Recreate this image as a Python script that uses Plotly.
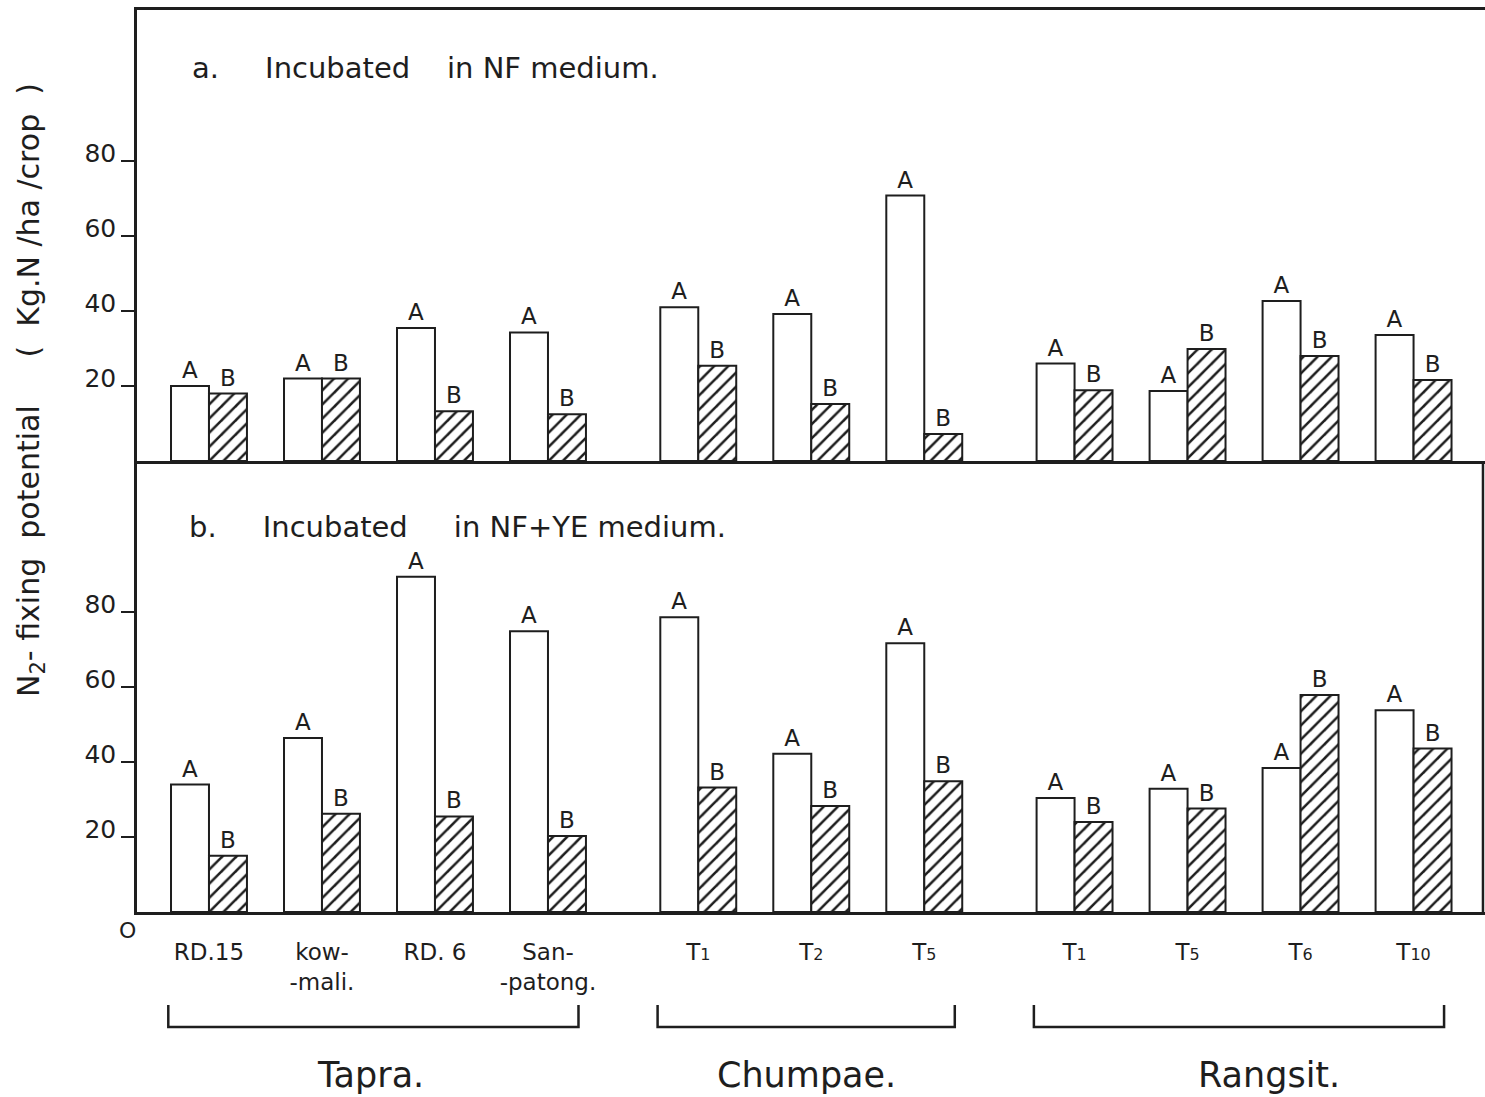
import plotly.graph_objects as go

# ---- data ----
groups = ["Tapra.", "Chumpae.", "Rangsit."]
group_sizes = [4, 3, 4]
cultivars = ["RD.15", "kow-<br>-mali.", "RD. 6", "San-<br>-patong.",
             "T<span style='font-size:16px'>1</span>", "T<span style='font-size:16px'>2</span>",
             "T<span style='font-size:16px'>5</span>",
             "T<span style='font-size:16px'>1</span>", "T<span style='font-size:16px'>5</span>",
             "T<span style='font-size:16px'>6</span>", "T<span style='font-size:16px'>10</span>"]
nf_A = [20, 22, 35.5, 34.3, 41, 39.2, 70.8, 26, 18.7, 42.7, 33.6]
nf_B = [18, 22, 13.3, 12.5, 25.4, 15.2, 7.2, 18.9, 29.9, 28, 21.6]
ye_A = [34, 46.4, 89.4, 74.9, 78.6, 42.2, 71.7, 30.4, 32.9, 38.4, 53.8]
ye_B = [15, 26.2, 25.5, 20.3, 33.2, 28.3, 34.9, 24, 27.6, 57.9, 43.6]
yticks = [20, 40, 60, 80]

# ---- positions (group gap) ----
GAP = 0.33
pos = []
p = 0.0
for n in group_sizes:
    for k in range(n):
        pos.append(p)
        p += 1
    p += GAP
W = 0.336
INK = "#1e1e1e"
FONT = "DejaVu Sans"

fig = go.Figure()

def add_pair(A, B, xa, ya):
    fig.add_trace(go.Bar(x=pos, y=A, width=W, offset=-W, xaxis=xa, yaxis=ya,
                         marker=dict(color="white", line=dict(color=INK, width=2)),
                         text=["A"] * len(A), textposition="outside", cliponaxis=False,
                         constraintext="none",
                         textfont=dict(size=23, color=INK, family=FONT), showlegend=False))
    fig.add_trace(go.Bar(x=pos, y=B, width=W, offset=0, xaxis=xa, yaxis=ya,
                         marker=dict(color="white", line=dict(color=INK, width=2),
                                     pattern=dict(shape="/", size=10, solidity=0.25,
                                                  fgcolor=INK, bgcolor="white", fgopacity=1)),
                         text=["B"] * len(B), textposition="outside", cliponaxis=False,
                         constraintext="none",
                         textfont=dict(size=23, color=INK, family=FONT), showlegend=False))

add_pair(nf_A, nf_B, "x", "y")
add_pair(ye_A, ye_B, "x2", "y2")

xr = [-0.637, -0.637 + 1348 / 113]
yaxis_common = dict(range=[0, 120.3], tickvals=yticks, ticks="outside", ticklen=13, tickwidth=2,
                    tickcolor=INK, showline=True, linecolor=INK, linewidth=2.5,
                    showgrid=False, zeroline=False, ticklabelshift=-8,
                    tickfont=dict(size=25, color=INK, family=FONT), fixedrange=True)

fig.update_layout(
    width=1485, height=1097,
    margin=dict(l=137, r=0, t=10, b=185),
    paper_bgcolor="white", plot_bgcolor="white",
    barmode="overlay",
    font=dict(family=FONT, color=INK),
    xaxis=dict(domain=[0, 1], anchor="y", range=xr, showline=True, mirror=True,
               linecolor=INK, linewidth=2.5, showticklabels=False, ticks="",
               showgrid=False, zeroline=False),
    yaxis=dict(domain=[0.5, 1], anchor="x", **yaxis_common),
    xaxis2=dict(domain=[0, 1], anchor="y2", range=xr, showline=True,
                linecolor=INK, linewidth=2.5, ticks="", showgrid=False, zeroline=False,
                tickvals=pos, ticktext=cultivars, ticklabelstandoff=18,
                tickfont=dict(size=23, color=INK, family=FONT)),
    yaxis2=dict(domain=[0, 0.5], anchor="x2", **yaxis_common),
)

# panel titles
NB = "\u00a0"
fig.add_annotation(xref="paper", yref="paper", x=0.0393, y=0.9357, xanchor="left", yanchor="middle",
                   text=f"a.{NB*5}Incubated{NB*4}in NF medium.", showarrow=False,
                   font=dict(size=29, color=INK, family=FONT))
fig.add_annotation(xref="paper", yref="paper", x=0.0371, y=0.4268, xanchor="left", yanchor="middle",
                   text=f"b.{NB*5}Incubated{NB*5}in NF+YE medium.", showarrow=False,
                   font=dict(size=29, color=INK, family=FONT))

# y title
fig.add_annotation(xref="paper", yref="paper", x=-0.0794, y=0.5787, xanchor="center", yanchor="middle",
                   textangle=-90, showarrow=False,
                   text=f"N<sub>2</sub>- fixing{NB*2}potential{NB*5}({NB*2}Kg.N{NB}/ha{NB}/crop{NB*2})",
                   font=dict(size=30, color=INK, family=FONT))

# origin label
fig.add_annotation(xref="paper", yref="paper", x=-0.0074, y=-0.02, xanchor="center", yanchor="middle",
                   text="O", showarrow=False, font=dict(size=22, color=INK, family=FONT))

# right edge of lower panel
fig.add_shape(type="line", xref="paper", yref="paper", x0=0.9985, x1=0.9985, y0=0, y1=0.5,
              line=dict(color=INK, width=2.5))

# group brackets
label_shift = [-3, 0, 30]
start = 0
for g, n, sh in zip(groups, group_sizes, label_shift):
    x0 = pos[start] - 0.36
    x1 = pos[start + n - 1] + 0.27
    fig.add_shape(type="path", xref="x2", yref="paper",
                  path=f"M {x0},-0.1031 L {x0},-0.1275 L {x1},-0.1275 L {x1},-0.1031",
                  line=dict(color=INK, width=2.5))
    fig.add_annotation(xref="x2", yref="paper", x=(x0 + x1) / 2, y=-0.1807, text=g,
                       showarrow=False, xanchor="center", yanchor="middle", xshift=sh,
                       font=dict(size=35, color=INK, family=FONT))
    start += n

fig.write_html("out.html")
